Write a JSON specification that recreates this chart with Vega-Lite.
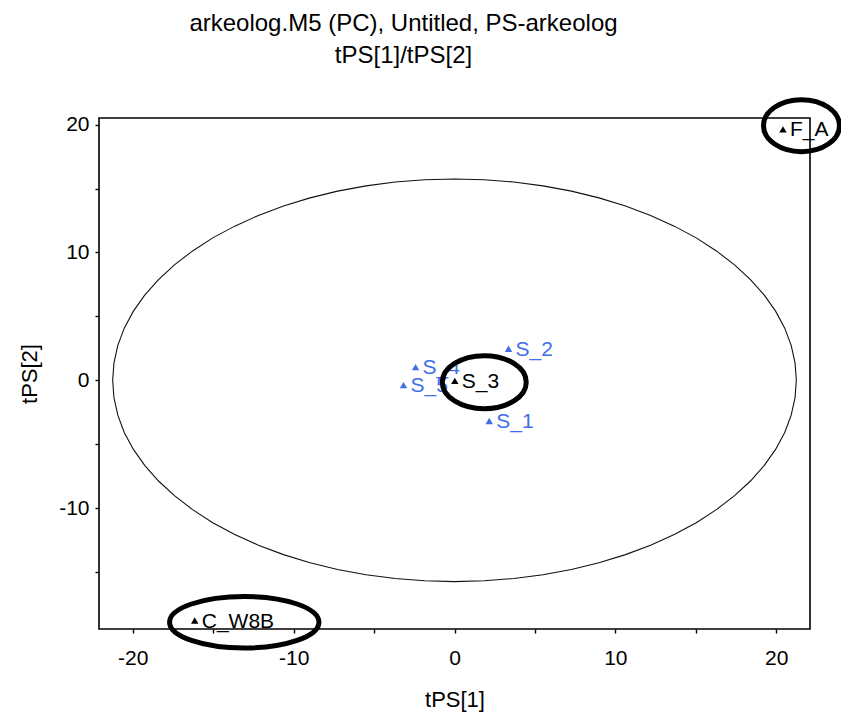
{
  "$schema": "https://vega.github.io/schema/vega-lite/v6.json",
  "width": 711,
  "height": 511,
  "autosize": {"type": "none"},
  "padding": {"left": 99, "top": 118, "right": 31, "bottom": 86},
  "background": "white",
  "title": {
    "text": ["arkeolog.M5 (PC), Untitled, PS-arkeolog", "tPS[1]/tPS[2]"],
    "font": "Liberation Sans",
    "fontSize": 24,
    "fontWeight": "normal",
    "color": "#000",
    "anchor": "middle",
    "frame": "group",
    "dx": -51,
    "dy": 52,
    "offset": 50,
    "baseline": "bottom",
    "lineHeight": 32
  },
  "config": {
    "view": {"stroke": "#000", "strokeWidth": 1.6},
    "axis": {
      "domain": false,
      "grid": false,
      "tickColor": "#000",
      "tickWidth": 1.4,
      "tickSize": 4,
      "labelFont": "Liberation Sans",
      "labelFontSize": 21,
      "labelColor": "#000",
      "titleFont": "Liberation Sans",
      "titleFontSize": 22,
      "titleFontWeight": "normal",
      "titleColor": "#000"
    }
  },
  "datasets": {
    "ellipse": [
      {"i": 0, "x": 21.25, "y": 0},
      {"i": 1, "x": 21.17, "y": 1.37},
      {"i": 2, "x": 20.93, "y": 2.73},
      {"i": 3, "x": 20.53, "y": 4.08},
      {"i": 4, "x": 19.97, "y": 5.39},
      {"i": 5, "x": 19.26, "y": 6.66},
      {"i": 6, "x": 18.40, "y": 7.88},
      {"i": 7, "x": 17.41, "y": 9.03},
      {"i": 8, "x": 16.28, "y": 10.12},
      {"i": 9, "x": 15.03, "y": 11.14},
      {"i": 10, "x": 13.66, "y": 12.06},
      {"i": 11, "x": 12.19, "y": 12.90},
      {"i": 12, "x": 10.63, "y": 13.64},
      {"i": 13, "x": 8.98, "y": 14.27},
      {"i": 14, "x": 7.27, "y": 14.80},
      {"i": 15, "x": 5.50, "y": 15.21},
      {"i": 16, "x": 3.69, "y": 15.51},
      {"i": 17, "x": 1.85, "y": 15.69},
      {"i": 18, "x": 0, "y": 15.75},
      {"i": 19, "x": -1.85, "y": 15.69},
      {"i": 20, "x": -3.69, "y": 15.51},
      {"i": 21, "x": -5.50, "y": 15.21},
      {"i": 22, "x": -7.27, "y": 14.80},
      {"i": 23, "x": -8.98, "y": 14.27},
      {"i": 24, "x": -10.63, "y": 13.64},
      {"i": 25, "x": -12.19, "y": 12.90},
      {"i": 26, "x": -13.66, "y": 12.06},
      {"i": 27, "x": -15.03, "y": 11.14},
      {"i": 28, "x": -16.28, "y": 10.12},
      {"i": 29, "x": -17.41, "y": 9.03},
      {"i": 30, "x": -18.40, "y": 7.88},
      {"i": 31, "x": -19.26, "y": 6.66},
      {"i": 32, "x": -19.97, "y": 5.39},
      {"i": 33, "x": -20.53, "y": 4.08},
      {"i": 34, "x": -20.93, "y": 2.73},
      {"i": 35, "x": -21.17, "y": 1.37},
      {"i": 36, "x": -21.25, "y": 0},
      {"i": 37, "x": -21.17, "y": -1.37},
      {"i": 38, "x": -20.93, "y": -2.73},
      {"i": 39, "x": -20.53, "y": -4.08},
      {"i": 40, "x": -19.97, "y": -5.39},
      {"i": 41, "x": -19.26, "y": -6.66},
      {"i": 42, "x": -18.40, "y": -7.88},
      {"i": 43, "x": -17.41, "y": -9.03},
      {"i": 44, "x": -16.28, "y": -10.12},
      {"i": 45, "x": -15.03, "y": -11.14},
      {"i": 46, "x": -13.66, "y": -12.06},
      {"i": 47, "x": -12.19, "y": -12.90},
      {"i": 48, "x": -10.63, "y": -13.64},
      {"i": 49, "x": -8.98, "y": -14.27},
      {"i": 50, "x": -7.27, "y": -14.80},
      {"i": 51, "x": -5.50, "y": -15.21},
      {"i": 52, "x": -3.69, "y": -15.51},
      {"i": 53, "x": -1.85, "y": -15.69},
      {"i": 54, "x": 0, "y": -15.75},
      {"i": 55, "x": 1.85, "y": -15.69},
      {"i": 56, "x": 3.69, "y": -15.51},
      {"i": 57, "x": 5.50, "y": -15.21},
      {"i": 58, "x": 7.27, "y": -14.80},
      {"i": 59, "x": 8.98, "y": -14.27},
      {"i": 60, "x": 10.63, "y": -13.64},
      {"i": 61, "x": 12.19, "y": -12.90},
      {"i": 62, "x": 13.66, "y": -12.06},
      {"i": 63, "x": 15.03, "y": -11.14},
      {"i": 64, "x": 16.28, "y": -10.12},
      {"i": 65, "x": 17.41, "y": -9.03},
      {"i": 66, "x": 18.40, "y": -7.88},
      {"i": 67, "x": 19.26, "y": -6.66},
      {"i": 68, "x": 19.97, "y": -5.39},
      {"i": 69, "x": 20.53, "y": -4.08},
      {"i": 70, "x": 20.93, "y": -2.73},
      {"i": 71, "x": 21.17, "y": -1.37},
      {"i": 72, "x": 21.25, "y": 0}
    ],
    "scores": [
      {"obs": "F_A", "class": "2", "x": 20.42, "y": 19.63},
      {"obs": "C_W8B", "class": "2", "x": -16.15, "y": -18.8},
      {"obs": "S_3", "class": "2", "x": 0.02, "y": -0.05},
      {"obs": "S_2", "class": "1", "x": 3.36, "y": 2.46},
      {"obs": "S_1", "class": "1", "x": 2.16, "y": -3.18},
      {"obs": "S_4", "class": "1", "x": -2.42, "y": 1.03},
      {"obs": "S_5", "class": "1", "x": -3.17, "y": -0.38}
    ],
    "marked": [
      {"obs": "F_A", "x": 21.57, "y": 19.92},
      {"obs": "S_3", "x": 1.85, "y": -0.15},
      {"obs": "C_W8B", "x": -13.07, "y": -18.93}
    ]
  },
  "encoding": {
    "x": {
      "type": "quantitative",
      "scale": {"domain": [-22.1, 22.1], "nice": false, "zero": false},
      "axis": {
        "title": "tPS[1]",
        "values": [-20, -15, -10, -5, 0, 5, 10, 15, 20],
        "labelExpr": "datum.value % 10 === 0 ? '' + datum.value : ''",
        "labelPadding": 14,
        "titlePadding": 21
      }
    },
    "y": {
      "type": "quantitative",
      "scale": {"domain": [-19.46, 20.52], "nice": false, "zero": false},
      "axis": {
        "title": "tPS[2]",
        "values": [-15, -10, -5, 0, 5, 10, 15, 20],
        "labelExpr": "datum.value % 10 === 0 ? '' + datum.value : ''",
        "labelPadding": 6,
        "titlePadding": 17
      }
    }
  },
  "layer": [
    {
      "data": {"name": "ellipse"},
      "mark": {"type": "line", "color": "#111", "strokeWidth": 1.1, "clip": true},
      "encoding": {
        "x": {"field": "x"},
        "y": {"field": "y"},
        "order": {"field": "i", "type": "quantitative"}
      }
    },
    {
      "mark": {"type": "rule", "color": "#000", "strokeWidth": 1.3},
      "encoding": {"x": {"datum": 0}}
    },
    {
      "mark": {"type": "rule", "color": "#000", "strokeWidth": 1.3},
      "encoding": {"y": {"datum": 0}}
    },
    {
      "data": {"name": "scores"},
      "mark": {"type": "point", "shape": "triangle-up", "filled": true, "size": 55, "opacity": 1},
      "encoding": {
        "x": {"field": "x"},
        "y": {"field": "y"},
        "color": {
          "field": "class",
          "type": "nominal",
          "scale": {"domain": ["1", "2"], "range": ["#3f6ee8", "#000000"]},
          "legend": null
        }
      }
    },
    {
      "data": {"name": "scores"},
      "mark": {"type": "text", "align": "left", "baseline": "middle", "dx": 7, "dy": 1, "font": "Liberation Sans", "fontSize": 21},
      "encoding": {
        "x": {"field": "x"},
        "y": {"field": "y"},
        "text": {"field": "obs"},
        "color": {"field": "class", "type": "nominal", "legend": null}
      }
    },
    {
      "data": {"name": "marked"},
      "transform": [{"filter": "datum.obs === 'F_A'"}],
      "mark": {
        "type": "point",
        "filled": false,
        "color": "#000",
        "strokeWidth": 5,
        "opacity": 1,
        "size": 5776,
        "shape": "M-1,0C-1,-0.378,-0.5523,-0.684,0,-0.684C0.5523,-0.684,1,-0.378,1,0C1,0.378,0.5523,0.684,0,0.684C-0.5523,0.684,-1,0.378,-1,0Z"
      },
      "encoding": {"x": {"field": "x"}, "y": {"field": "y"}}
    },
    {
      "data": {"name": "marked"},
      "transform": [{"filter": "datum.obs === 'S_3'"}],
      "mark": {
        "type": "point",
        "filled": false,
        "color": "#000",
        "strokeWidth": 5,
        "opacity": 1,
        "size": 7056,
        "shape": "M-1,0C-1,-0.3485,-0.5523,-0.631,0,-0.631C0.5523,-0.631,1,-0.3485,1,0C1,0.3485,0.5523,0.631,0,0.631C-0.5523,0.631,-1,0.3485,-1,0Z"
      },
      "encoding": {"x": {"field": "x"}, "y": {"field": "y"}}
    },
    {
      "data": {"name": "marked"},
      "transform": [{"filter": "datum.obs === 'C_W8B'"}],
      "mark": {
        "type": "point",
        "filled": false,
        "color": "#000",
        "strokeWidth": 5,
        "opacity": 1,
        "size": 22320,
        "shape": "M-1,0C-1,-0.1905,-0.5523,-0.345,0,-0.345C0.5523,-0.345,1,-0.1905,1,0C1,0.1905,0.5523,0.345,0,0.345C-0.5523,0.345,-1,0.1905,-1,0Z"
      },
      "encoding": {"x": {"field": "x"}, "y": {"field": "y"}}
    }
  ]
}
